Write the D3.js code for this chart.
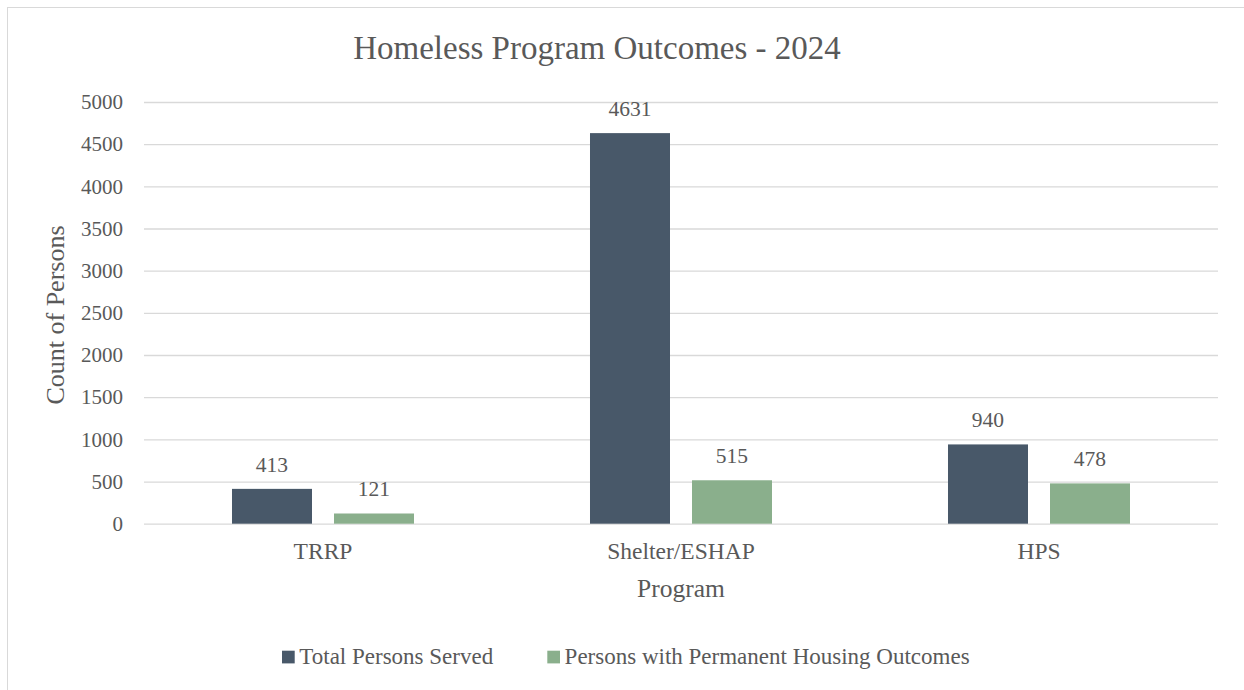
<!DOCTYPE html>
<html>
<head>
<meta charset="utf-8">
<script src="https://cdn.jsdelivr.net/npm/d3@7"></script>
<style>
  html, body { margin: 0; padding: 0; background: #ffffff; }
  svg { display: block; }
  text { font-family: "Liberation Serif", "Times New Roman", serif; fill: #595959; }
</style>
</head>
<body>
<svg id="chart" width="1244" height="690"></svg>
<script>
// Program categories and the two measured series
const programs = ["TRRP", "Shelter/ESHAP", "HPS"];
const seriesNames = ["Total Persons Served", "Persons with Permanent Housing Outcomes"];
const totalServed = [413, 4631, 940];
const permanentHousing = [121, 515, 478];
const yTicks = [0, 500, 1000, 1500, 2000, 2500, 3000, 3500, 4000, 4500, 5000];

const seriesColors = ["#485869", "#8aaf8c"];
const seriesValues = [totalServed, permanentHousing];

const svg = d3.select("#chart");
const W = 1244, H = 690;

// Chart area frame
svg.append("rect")
  .attr("x", 7.5).attr("y", 7.5)
  .attr("width", W + 20).attr("height", H + 20)
  .attr("fill", "#ffffff")
  .attr("stroke", "#d9d9d9").attr("stroke-width", 1);

const plot = { left: 144, right: 1218, top: 102, bottom: 523.7 };

const x0 = d3.scaleBand()
  .domain(programs)
  .range([plot.left, plot.right])
  .paddingInner(0.4916)
  .paddingOuter(0.2458);

const x1 = d3.scaleBand()
  .domain(seriesNames)
  .range([0, x0.bandwidth()])
  .paddingInner(0.2157)
  .paddingOuter(0);

const y = d3.scaleLinear()
  .domain([0, 5000])
  .range([plot.bottom, plot.top]);

// Horizontal gridlines with value labels on the left
const yAxis = d3.axisLeft(y)
  .tickValues(yTicks)
  .tickSize(-(plot.right - plot.left))
  .tickPadding(21)
  .tickFormat(d3.format("d"));

const gy = svg.append("g")
  .attr("transform", `translate(${plot.left},0)`)
  .call(yAxis);
gy.select(".domain").remove();
gy.selectAll(".tick line").attr("stroke", "#d9d9d9").attr("stroke-width", 1.3);
gy.selectAll(".tick text")
  .style("font-size", "21px")
  .attr("fill", "#595959");

// Category labels along the bottom
const xAxis = d3.axisBottom(x0).tickSize(0).tickPadding(0);
const gx = svg.append("g")
  .attr("transform", `translate(0,${plot.bottom})`)
  .call(xAxis);
gx.select(".domain").remove();
gx.selectAll(".tick text")
  .attr("dy", null)
  .attr("y", 35.5)
  .style("font-size", "23.5px")
  .attr("fill", "#595959");

// Rows of bar data built from the series arrays
const rows = programs.map((p, i) => ({
  program: p,
  bars: seriesNames.map((s, k) => ({ series: s, value: seriesValues[k][i], color: seriesColors[k] }))
}));

const groups = svg.append("g").selectAll("g")
  .data(rows)
  .join("g")
  .attr("transform", d => `translate(${x0(d.program)},0)`);

groups.selectAll("rect")
  .data(d => d.bars)
  .join("rect")
  .attr("x", d => x1(d.series))
  .attr("y", d => y(d.value))
  .attr("width", x1.bandwidth())
  .attr("height", d => y(0) - y(d.value))
  .attr("fill", d => d.color);

groups.selectAll("text.value")
  .data(d => d.bars)
  .join("text")
  .attr("class", "value")
  .attr("x", d => x1(d.series) + x1.bandwidth() / 2)
  .attr("y", d => y(d.value) - 17)
  .attr("text-anchor", "middle")
  .style("font-size", "21.5px")
  .text(d => d.value);

// Title
svg.append("text")
  .attr("x", (plot.left + plot.right) / 2 - 84)
  .attr("y", 59.3)
  .attr("text-anchor", "middle")
  .style("font-size", "33px")
  .text("Homeless Program Outcomes - 2024");

// Axis titles
svg.append("text")
  .attr("x", (plot.left + plot.right) / 2)
  .attr("y", 596.7)
  .attr("text-anchor", "middle")
  .style("font-size", "25.5px")
  .text("Program");

svg.append("text")
  .attr("transform", "translate(64,315) rotate(-90)")
  .attr("text-anchor", "middle")
  .style("font-size", "26px")
  .text("Count of Persons");

// Legend
const legendX = [282, 547.3];
const legend = svg.append("g").selectAll("g")
  .data(seriesNames.map((s, k) => ({ name: s, color: seriesColors[k], x: legendX[k] })))
  .join("g")
  .attr("transform", d => `translate(${d.x},650.7)`);
legend.append("rect")
  .attr("width", 12.7).attr("height", 12.7)
  .attr("fill", d => d.color);
legend.append("text")
  .attr("x", 17.3)
  .attr("y", 13.3)
  .style("font-size", "23px")
  .text(d => d.name);
</script>
</body>
</html>
